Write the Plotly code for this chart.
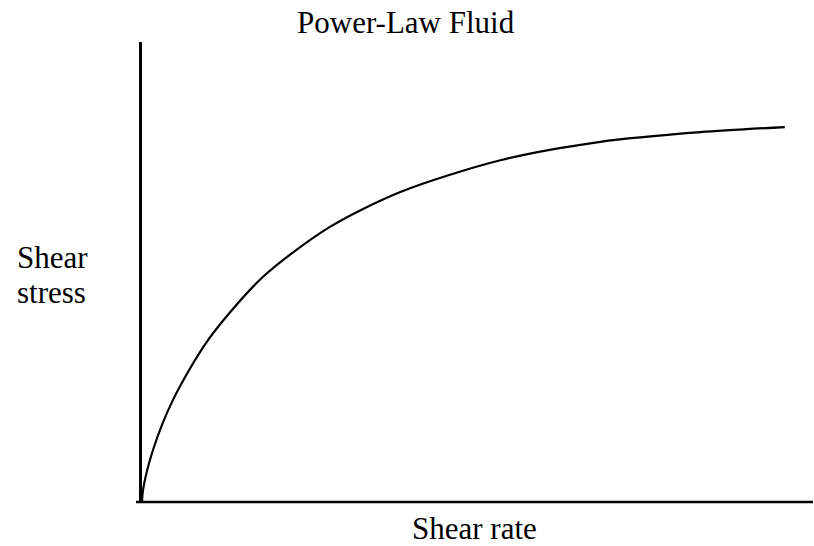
import plotly.graph_objects as go

# Data (arbitrary units)
shear_rate = [0, 0.15, 1.64, 4.62, 9.84, 18.0, 28.0, 38.5, 53.4, 68.3, 83.2, 95.8]
shear_stress = [0, 2.6, 11.3, 22.2, 35.2, 48.9, 59.8, 67.4, 74.3, 78.3, 80.4, 81.5]

title_text = "Power-Law Fluid"
x_label = "Shear rate"
y_label_lines = ["Shear", "stress"]

W, H = 814, 546
L, R, T, B = 142, 1, 42, 44
pw, ph = W - L - R, H - T - B

def px(x):
    return (x - L) / pw

def py(y):
    return (H - B - y) / ph

font = dict(family="Liberation Serif, Times New Roman, serif", size=31, color="black")

fig = go.Figure()
fig.add_trace(go.Scatter(
    x=shear_rate, y=shear_stress, mode="lines",
    line=dict(color="black", width=2.2, shape="spline", smoothing=0.8),
    hoverinfo="skip", showlegend=False,
))

ann = [
    dict(text=title_text, x=px(406), y=py(22), xanchor="center", yanchor="middle"),
    dict(text=y_label_lines[0], x=px(15), y=py(257), xanchor="left", yanchor="middle"),
    dict(text=y_label_lines[1], x=px(15), y=py(292), xanchor="left", yanchor="middle"),
    dict(text=x_label, x=px(410), y=py(528), xanchor="left", yanchor="middle"),
]
for a in ann:
    a.update(xref="paper", yref="paper", showarrow=False, font=font)

fig.update_layout(
    width=W, height=H,
    margin=dict(l=L, r=R, t=T, b=B, pad=0),
    paper_bgcolor="white", plot_bgcolor="white",
    annotations=ann,
    shapes=[dict(type="line", xref="paper", yref="paper",
                 x0=px(136), x1=1, y0=0, y1=0,
                 line=dict(color="black", width=2.5))],
    xaxis=dict(range=[0, 100], showgrid=False, zeroline=False, showticklabels=False,
               ticks="", showline=False, fixedrange=True),
    yaxis=dict(range=[0, 100], showgrid=False, zeroline=False, showticklabels=False,
               ticks="", showline=True, linecolor="black", linewidth=2.5, fixedrange=True),
    showlegend=False,
)

fig.write_html("out.html", config={"displayModeBar": False},
               post_script="document.body.style.margin='0';document.body.style.overflow='hidden';")
